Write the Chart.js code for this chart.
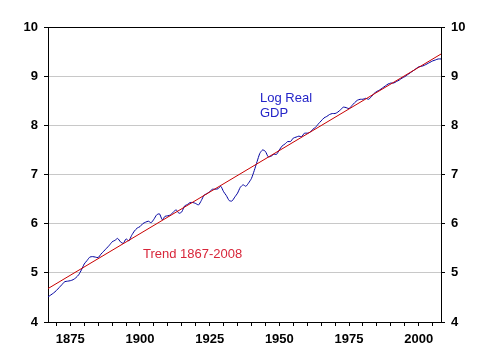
<!DOCTYPE html>
<html>
<head>
<meta charset="utf-8">
<script src="https://cdn.jsdelivr.net/npm/chart.js@4.4.0/dist/chart.umd.min.js"></script>
<style>
    html, body { margin: 0; padding: 0; background: #fff; }
    #wrap { width: 486px; height: 364px; }
</style>
</head>
<body>
<div id="wrap"><canvas id="chartGdp" width="486" height="364"></canvas></div>
<script>
// ---------------------------------------------------------------------------
// Log real GDP, 1867-2008, met lineaire trend
// ---------------------------------------------------------------------------

const years = [
    1867, 1868, 1869, 1870, 1871, 1872, 1873, 1874, 1875, 1876,
    1877, 1878, 1879, 1880, 1881, 1882, 1883, 1884, 1885, 1886,
    1887, 1888, 1889, 1890, 1891, 1892, 1893, 1894, 1895, 1896,
    1897, 1898, 1899, 1900, 1901, 1902, 1903, 1904, 1905, 1906,
    1907, 1908, 1909, 1910, 1911, 1912, 1913, 1914, 1915, 1916,
    1917, 1918, 1919, 1920, 1921, 1922, 1923, 1924, 1925, 1926,
    1927, 1928, 1929, 1930, 1931, 1932, 1933, 1934, 1935, 1936,
    1937, 1938, 1939, 1940, 1941, 1942, 1943, 1944, 1945, 1946,
    1947, 1948, 1949, 1950, 1951, 1952, 1953, 1954, 1955, 1956,
    1957, 1958, 1959, 1960, 1961, 1962, 1963, 1964, 1965, 1966,
    1967, 1968, 1969, 1970, 1971, 1972, 1973, 1974, 1975, 1976,
    1977, 1978, 1979, 1980, 1981, 1982, 1983, 1984, 1985, 1986,
    1987, 1988, 1989, 1990, 1991, 1992, 1993, 1994, 1995, 1996,
    1997, 1998, 1999, 2000, 2001, 2002, 2003, 2004, 2005, 2006,
    2007, 2008
];

const logRealGdp = [
    4.51, 4.55, 4.59, 4.64, 4.70, 4.76, 4.82, 4.83, 4.84, 4.86,
    4.90, 4.96, 5.06, 5.18, 5.25, 5.32, 5.33, 5.32, 5.31, 5.38,
    5.44, 5.50, 5.56, 5.63, 5.66, 5.70, 5.63, 5.60, 5.69, 5.65,
    5.76, 5.85, 5.91, 5.94, 6.00, 6.03, 6.05, 6.02, 6.09, 6.18,
    6.20, 6.08, 6.15, 6.16, 6.18, 6.24, 6.28, 6.21, 6.24, 6.36,
    6.39, 6.43, 6.43, 6.41, 6.38, 6.47, 6.58, 6.61, 6.65, 6.70,
    6.70, 6.71, 6.76, 6.65, 6.57, 6.47, 6.46, 6.54, 6.62, 6.74,
    6.79, 6.76, 6.83, 6.92, 7.08, 7.26, 7.43, 7.50, 7.47, 7.36,
    7.37, 7.41, 7.41, 7.50, 7.58, 7.62, 7.67, 7.67, 7.74, 7.76,
    7.78, 7.77, 7.84, 7.84, 7.86, 7.92, 7.96, 8.03, 8.09, 8.15,
    8.18, 8.22, 8.24, 8.24, 8.27, 8.32, 8.37, 8.36, 8.34, 8.40,
    8.46, 8.51, 8.53, 8.53, 8.55, 8.53, 8.58, 8.65, 8.69, 8.72,
    8.76, 8.80, 8.84, 8.86, 8.86, 8.89, 8.92, 8.96, 8.99, 9.03,
    9.07, 9.11, 9.15, 9.19, 9.20, 9.22, 9.25, 9.28, 9.31, 9.33,
    9.35, 9.35
];

// trend: begin- en eindpunt van de rechte lijn
const trendYears = [1867, 2008];
const trendValues = [4.68, 9.45];

const xTicks = [1870, 1875, 1880, 1885, 1890, 1895, 1900, 1905, 1910, 1915,
    1920, 1925, 1930, 1935, 1940, 1945, 1950, 1955, 1960, 1965,
    1970, 1975, 1980, 1985, 1990, 1995, 2000, 2005];
const xLabelYears = [1875, 1900, 1925, 1950, 1975, 2000];
const yTicks = [4, 5, 6, 7, 8, 9, 10];

const tickFont = { family: "'Liberation Sans', Arial, sans-serif", size: 13, weight: 'bold' };

const toPoints = (xs, ys) => xs.map((x, i) => ({ x: x, y: ys[i] }));
const setTicks = list => scale => { scale.ticks = list.map(v => ({ value: v })); };

// tekstlabels in het grafiekvlak
const labelsPlugin = {
    id: 'labels',
    afterDatasetsDraw(chart) {
        const ctx = chart.ctx;
        ctx.save();
        ctx.font = "13px 'Liberation Sans', Arial, sans-serif";
        ctx.textBaseline = 'alphabetic';
        ctx.fillStyle = '#2424c8';
        ctx.fillText('Log Real', 260, 102);
        ctx.fillText('GDP', 260, 117);
        ctx.fillStyle = '#d8263a';
        ctx.fillText('Trend 1867-2008', 143, 258);
        ctx.restore();
    }
};

const yAxis = (pos) => ({
    type: 'linear',
    position: pos,
    min: 4,
    max: 10,
    afterBuildTicks: setTicks(yTicks),
    afterFit: s => { s.width = pos === 'left' ? 48 : 45; },
    border: { display: true, color: '#000', width: 1 },
    grid: {
        drawOnChartArea: pos === 'left',
        tickLength: 4,
        tickColor: '#000',
        color: c => c.tick && c.tick.value === 10 ? '#000' : (c.tick && c.tick.value === 4 ? 'rgba(0,0,0,0)' : '#c8c8c8')
    },
    ticks: { color: '#000', font: tickFont, padding: 6 }
});

new Chart(document.getElementById('chartGdp'), {
    type: 'line',
    data: {
        datasets: [
            {
                label: 'Trend 1867-2008',
                data: toPoints(trendYears, trendValues),
                borderColor: '#c80000',
                borderWidth: 1,
                pointRadius: 0,
                tension: 0,
                order: 0
            },
            {
                label: 'Log Real GDP',
                data: toPoints(years, logRealGdp),
                borderColor: '#0000a0',
                borderWidth: 1,
                pointRadius: 0,
                tension: 0.2,
                order: 1
            }
        ]
    },
    options: {
        responsive: false,
        animation: false,
        layout: { padding: { top: 27, left: 0, right: 0, bottom: 0 } },
        plugins: { legend: { display: false }, tooltip: { enabled: false } },
        scales: {
            x: {
                type: 'linear',
                min: 1867,
                max: 2008,
                afterBuildTicks: setTicks(xTicks),
                afterFit: s => { s.height = 42; },
                border: { display: true, color: '#000', width: 1 },
                grid: { drawOnChartArea: false, tickLength: 4, tickColor: '#000' },
                ticks: {
                    color: '#000',
                    font: tickFont,
                    padding: 6,
                    autoSkip: false,
                    maxRotation: 0,
                    callback: v => xLabelYears.includes(v) ? String(v) : ''
                }
            },
            y: yAxis('left'),
            y2: yAxis('right')
        }
    },
    plugins: [labelsPlugin]
});
</script>
</body>
</html>
